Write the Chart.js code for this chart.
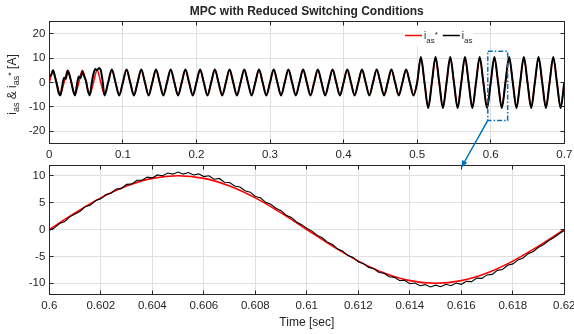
<!DOCTYPE html>
<html>
<head>
<meta charset="utf-8">
<script src="https://cdn.jsdelivr.net/npm/chart.js@4.4.1/dist/chart.umd.min.js"></script>
<style>
  html, body { margin: 0; padding: 0; background: #fff; }
  #wrap { position: relative; width: 574px; height: 334px; }
  #wrap canvas { position: absolute; left: 0; top: 0; }
</style>
</head>
<body>
<div id="wrap">
  <canvas id="topChart" width="574" height="334"></canvas>
  <canvas id="zoomChart" width="574" height="334"></canvas>
  <canvas id="overlay" width="574" height="334"></canvas>
</div>
<script>
// ---- data: full run (0 - 0.7 s) ----
const tRef = [
  0,0.005,0.01,0.015,0.02,0.025,0.03,0.035,0.04,0.045,
  0.05,0.055,0.06,0.065,0.07,0.075,0.08,0.085,0.09,0.095,
  0.1,0.105,0.11,0.115,0.12,0.125,0.13,0.135,0.14,0.145,
  0.15,0.155,0.16,0.165,0.17,0.175,0.18,0.185,0.19,0.195,
  0.2,0.205,0.21,0.215,0.22,0.225,0.23,0.235,0.24,0.245,
  0.25,0.255,0.26,0.265,0.27,0.275,0.28,0.285,0.29,0.295,
  0.3,0.305,0.31,0.315,0.32,0.325,0.33,0.335,0.34,0.345,
  0.35,0.355,0.36,0.365,0.37,0.375,0.38,0.385,0.39,0.395,
  0.4,0.405,0.41,0.415,0.42,0.425,0.43,0.435,0.44,0.445,
  0.45,0.455,0.46,0.465,0.47,0.475,0.48,0.485,0.49,0.495,
  0.5,0.505,0.51,0.515,0.52,0.525,0.53,0.535,0.54,0.545,
  0.55,0.555,0.56,0.565,0.57,0.575,0.58,0.585,0.59,0.595,
  0.6,0.605,0.61,0.615,0.62,0.625,0.63,0.635,0.64,0.645,
  0.65,0.655,0.66,0.665,0.67,0.675,0.68,0.685,0.69,0.695,
  0.7
];
const iRef = [
  0,5,0,-5,0,5,0,-5,0,5,0,-5,0,5,0,-5,0,5,0,-5,
  0,5,0,-5,0,5,0,-5,0,5,0,-5,0,5,0,-5,0,5,0,-5,
  0,5,0,-5,0,5,0,-5,0,5,0,-5,0,5,0,-5,0,5,0,-5,
  0,5,0,-5,0,5,0,-5,0,5,0,-5,0,5,0,-5,0,5,0,-5,
  0,5,0,-5,0,5,0,-5,0,5,0,-5,0,5,0,-5,0,5,0,-5,
  0,
  10,0,-10,0,10,0,-10,0,10,0,-10,0,10,0,-10,0,10,0,-10,0,
  10,0,-10,0,10,0,-10,0,10,0,-10,0,10,0,-10,0,10,0,-10,0
];
const tMeas = [
  0,0.0025,0.005,0.0075,0.01,0.0125,0.015,0.0175,0.02,0.0225,
  0.025,0.0275,0.03,0.0325,0.035,0.0375,0.04,0.0425,0.045,0.0475,
  0.05,0.0525,0.055,0.0575,0.06,0.0625,0.065,0.0675,0.07,0.0725,
  0.075,
  0.08,0.085,0.09,0.095,
  0.1,0.105,0.11,0.115,0.12,0.125,0.13,0.135,0.14,0.145,
  0.15,0.155,0.16,0.165,0.17,0.175,0.18,0.185,0.19,0.195,
  0.2,0.205,0.21,0.215,0.22,0.225,0.23,0.235,0.24,0.245,
  0.25,0.255,0.26,0.265,0.27,0.275,0.28,0.285,0.29,0.295,
  0.3,0.305,0.31,0.315,0.32,0.325,0.33,0.335,0.34,0.345,
  0.35,0.355,0.36,0.365,0.37,0.375,0.38,0.385,0.39,0.395,
  0.4,0.405,0.41,0.415,0.42,0.425,0.43,0.435,0.44,0.445,
  0.45,0.455,0.46,0.465,0.47,0.475,0.48,0.485,0.49,0.495,
  0.5,0.505,0.51,0.515,0.52,0.525,0.53,0.535,0.54,0.545,
  0.55,0.555,0.56,0.565,0.57,0.575,0.58,0.585,0.59,0.595,
  0.6,0.605,0.61,0.615,0.62,0.625,0.63,0.635,0.64,0.645,
  0.65,0.655,0.66,0.665,0.67,0.675,0.68,0.685,0.69,0.695,
  0.7
];
const iMeas = [
  2.5,3.0,5.0,2.5,-0.5,-4.0,-5.3,-1.5,2.0,1.5,
  4.8,3.0,0.0,-3.5,-5.3,-1.0,2.5,1.8,4.5,2.5,
  0.5,-3.5,-5.3,-0.5,3.5,5.5,5.0,6.0,5.0,0.5,
  -5.3,
  0,5.3,0,-5.3,
  0,5.3,0,-5.3,0,5.3,0,-5.3,0,5.3,0,-5.3,0,5.3,0,-5.3,0,5.3,0,-5.3,
  0,5.3,0,-5.3,0,5.3,0,-5.3,0,5.3,0,-5.3,0,5.3,0,-5.3,0,5.3,0,-5.3,
  0,5.3,0,-5.3,0,5.3,0,-5.3,0,5.3,0,-5.3,0,5.3,0,-5.3,0,5.3,0,-5.3,
  0,5.3,0,-5.3,0,5.3,0,-5.3,0,5.3,0,-5.3,0,5.3,0,-5.3,0,5.3,0,-5.3,
  0,
  10.5,0,-10.5,0,10.5,0,-10.5,0,10.5,0,-10.5,0,10.5,0,-10.5,0,10.5,0,-10.5,0,
  10.5,0,-10.5,0,10.5,0,-10.5,0,10.5,0,-10.5,0,10.5,0,-10.5,0,10.5,0,-10.5,0
];

// ---- data: zoomed window (0.6 - 0.62 s) ----
const tZoomRef = [0.6,0.601,0.602,0.603,0.604,0.605,0.606,0.607,0.608,0.609,0.61,
  0.611,0.612,0.613,0.614,0.615,0.616,0.617,0.618,0.619,0.62];
const iZoomRef = [0,3.09,5.88,8.09,9.51,10,9.51,8.09,5.88,3.09,0,
  -3.09,-5.88,-8.09,-9.51,-10,-9.51,-8.09,-5.88,-3.09,0];
const tZoomMeas = [
  0.6,0.6002,0.6004,0.6006,0.6008,0.601,0.6012,0.6014,0.6016,0.6018,
  0.602,0.6022,0.6024,0.6026,0.6028,0.603,0.6032,0.6034,0.6036,0.6038,
  0.604,0.6042,0.6044,0.6046,0.6048,0.605,0.6052,0.6054,0.6056,0.6058,
  0.606,0.6062,0.6064,0.6066,0.6068,0.607,0.6072,0.6074,0.6076,0.6078,
  0.608,0.6082,0.6084,0.6086,0.6088,0.609,0.6092,0.6094,0.6096,0.6098,
  0.61,0.6102,0.6104,0.6106,0.6108,0.611,0.6112,0.6114,0.6116,0.6118,
  0.612,0.6122,0.6124,0.6126,0.6128,0.613,0.6132,0.6134,0.6136,0.6138,
  0.614,0.6142,0.6144,0.6146,0.6148,0.615,0.6152,0.6154,0.6156,0.6158,
  0.616,0.6162,0.6164,0.6166,0.6168,0.617,0.6172,0.6174,0.6176,0.6178,
  0.618,0.6182,0.6184,0.6186,0.6188,0.619,0.6192,0.6194,0.6196,0.6198,
  0.62
];
const iZoomMeas = [
  -0.2,0.3,1.1,1.5,2.35,2.9,3.4,4.25,4.55,5.4,
  5.7,6.5,6.75,7.55,7.6,8.4,8.45,9.15,9.15,9.75,
  9.6,10.15,10.0,10.5,10.3,10.7,10.3,10.6,10.15,10.35,
  9.85,10.0,9.35,9.5,8.8,8.75,8.1,7.9,7.2,6.95,
  6.15,5.9,5.05,4.7,3.95,3.5,2.65,2.25,1.4,0.9,
  0.25,-0.3,-1.05,-1.55,-2.35,-2.8,-3.65,-4.05,-4.85,-5.2,
  -6.0,-6.35,-7.05,-7.25,-8.0,-8.15,-8.8,-8.9,-9.5,-9.45,
  -10.1,-9.95,-10.45,-10.25,-10.7,-10.35,-10.65,-10.2,-10.45,-9.95,
  -10.2,-9.65,-9.7,-9.05,-9.1,-8.45,-8.35,-7.6,-7.45,-6.65,
  -6.4,-5.65,-5.3,-4.5,-4.1,-3.3,-2.8,-2.05,-1.5,-0.8,
  -0.2
];

// ---- tick labels ----
const xTicksTop = [0, 0.1, 0.2, 0.3, 0.4, 0.5, 0.6, 0.7];
const yTicksTop = [-20, -10, 0, 10, 20];
const xTicksZoom = [0.6, 0.602, 0.604, 0.606, 0.608, 0.61, 0.612, 0.614, 0.616, 0.618, 0.62];
const yTicksZoom = [-10, -5, 0, 5, 10];

// zoom window marked on the top plot, arrow points to this time on the lower plot
const zoomWindow = { t: [0.596, 0.623], i: [-15.6, 12.8] };
const arrowTargetT = 0.616;

const titleText = "MPC with Reduced Switching Conditions";
const FONT = "'Liberation Sans', Arial, Helvetica, sans-serif";
const TXT = "#262626";
const GRID = "#e0e0e0";
const BLUE = "#0072BD";

const pts = (ts, vs) => ts.map((t, k) => ({ x: t, y: vs[k] }));
const fixedTicks = list => axis => { axis.ticks = list.map(v => ({ value: v })); };
const fmt = d => v => String(Number(v.toFixed(d)));
const align = p => Math.round(p - 0.5) + 0.5;

// box around the axes with inward tick marks (MATLAB style)
const boxTicks = {
  id: "boxTicks",
  afterDraw(chart) {
    const { ctx, chartArea: a, scales: { x, y } } = chart;
    const L = align(a.left), R = align(a.right), T = align(a.top), B = align(a.bottom);
    const len = 4;
    ctx.save();
    ctx.strokeStyle = TXT;
    ctx.lineWidth = 1;
    ctx.strokeRect(L, T, R - L, B - T);
    ctx.beginPath();
    x.ticks.forEach(tk => {
      const px = align(x.getPixelForValue(tk.value));
      ctx.moveTo(px, B); ctx.lineTo(px, B - len);
      ctx.moveTo(px, T); ctx.lineTo(px, T + len);
    });
    y.ticks.forEach(tk => {
      const py = align(y.getPixelForValue(tk.value));
      ctx.moveTo(L, py); ctx.lineTo(L + len, py);
      ctx.moveTo(R, py); ctx.lineTo(R - len, py);
    });
    ctx.stroke();
    ctx.restore();
  }
};

function axisOpts(min, max, ticks, decimals, extra) {
  return Object.assign({
    type: "linear",
    min: min,
    max: max,
    afterBuildTicks: fixedTicks(ticks),
    grid: { color: GRID, drawTicks: false },
    border: { display: false },
    ticks: {
      color: TXT,
      font: { family: FONT, size: 11.5 },
      autoSkip: false,
      maxRotation: 0,
      callback: fmt(decimals)
    }
  }, extra);
}

const topChart = new Chart(document.getElementById("topChart"), {
  type: "line",
  data: {
    datasets: [
      { label: "i_as*", data: pts(tRef, iRef), borderColor: "#ff0000", borderWidth: 1.5,
        pointRadius: 0, cubicInterpolationMode: "monotone", order: 1 },
      { label: "i_as", data: pts(tMeas, iMeas), borderColor: "#000000", borderWidth: 2,
        pointRadius: 0, cubicInterpolationMode: "monotone", order: 0 }
    ]
  },
  options: {
    responsive: false,
    animation: false,
    events: [],
    layout: { padding: { left: 0, right: 9.7, top: 21.7, bottom: 170.7 } },
    plugins: { legend: { display: false }, tooltip: { enabled: false } },
    scales: {
      x: axisOpts(0, 0.7, xTicksTop, 2, {
        afterFit: s => { s.height = 20; s.paddingLeft = 0; s.paddingRight = 0; }
      }),
      y: axisOpts(-25, 25, yTicksTop, 0, {
        afterFit: s => { s.width = 49.3; s.paddingTop = 0; s.paddingBottom = 0; }
      })
    }
  },
  plugins: [boxTicks]
});
topChart.options.scales.x.ticks.padding = 5;
topChart.options.scales.y.ticks.padding = 4;
topChart.update();

const zoomChart = new Chart(document.getElementById("zoomChart"), {
  type: "line",
  data: {
    datasets: [
      { label: "i_as*", data: pts(tZoomRef, iZoomRef), borderColor: "#ff0000", borderWidth: 1.6,
        pointRadius: 0, tension: 0.4, order: 1 },
      { label: "i_as", data: pts(tZoomMeas, iZoomMeas), borderColor: "#000000", borderWidth: 1.1,
        pointRadius: 0, tension: 0, order: 0 }
    ]
  },
  options: {
    responsive: false,
    animation: false,
    events: [],
    layout: { padding: { left: 0, right: 9.7, top: 165, bottom: 0 } },
    plugins: { legend: { display: false }, tooltip: { enabled: false } },
    scales: {
      x: axisOpts(0.6, 0.62, xTicksZoom, 3, {
        afterFit: s => { s.height = 40; s.paddingLeft = 0; s.paddingRight = 0; },
        title: { display: true, text: "Time [sec]", color: TXT,
                 font: { family: FONT, size: 12 }, padding: { top: 0, bottom: 4 } }
      }),
      y: axisOpts(-12, 12, yTicksZoom, 0, {
        afterFit: s => { s.width = 49.3; s.paddingTop = 0; s.paddingBottom = 0; }
      })
    }
  },
  plugins: [boxTicks]
});
zoomChart.options.scales.x.ticks.padding = 5;
zoomChart.options.scales.y.ticks.padding = 4;
zoomChart.update();

// ---- overlay: title, y label, legend, zoom box + arrow ----
function richWidth(ctx, parts) {
  let w = 0;
  parts.forEach(p => { ctx.font = (p.bold ? "bold " : "") + p.s + "px " + FONT; w += ctx.measureText(p.t).width; });
  return w;
}
function drawRich(ctx, parts, x, y) {
  let cx = x;
  parts.forEach(p => {
    ctx.font = (p.bold ? "bold " : "") + p.s + "px " + FONT;
    ctx.fillText(p.t, cx, y + (p.dy || 0));
    cx += ctx.measureText(p.t).width;
  });
  return cx;
}

const ov = document.getElementById("overlay").getContext("2d");
const ta = topChart.chartArea;
ov.fillStyle = TXT;
ov.textBaseline = "alphabetic";

// title
ov.font = "bold 12px " + FONT;
ov.textAlign = "center";
ov.textBaseline = "middle";
ov.fillText(titleText, (ta.left + ta.right) / 2, 12);
ov.textAlign = "left";
ov.textBaseline = "alphabetic";

// y label (rotated)
const ylab = [
  { t: "i", s: 12 }, { t: "as", s: 9, dy: 3 }, { t: " & ", s: 12 },
  { t: "i", s: 12 }, { t: "as", s: 9, dy: 3 }, { t: "*", s: 9, dy: -2.5 }, { t: " [A]", s: 12 }
];
ov.save();
ov.translate(16, (ta.top + ta.bottom) / 2 + 2);
ov.rotate(-Math.PI / 2);
drawRich(ov, ylab, -richWidth(ov, ylab) / 2, 0);
ov.restore();

// legend
const lgY = 35.5;
ov.fillStyle = "#ffffff";
ov.fillRect(403, 26, 70, 20);
ov.lineWidth = 1.5;
ov.strokeStyle = "#ff0000";
ov.beginPath(); ov.moveTo(405, lgY); ov.lineTo(422, lgY); ov.stroke();
ov.fillStyle = TXT;
let lx = drawRich(ov, [{ t: "i", s: 10 }, { t: "as", s: 8, dy: 3.5 }, { t: "*", s: 8, dy: -2 }], 424, lgY + 3.5);
ov.strokeStyle = "#000000";
ov.beginPath(); ov.moveTo(lx + 5, lgY); ov.lineTo(lx + 22, lgY); ov.stroke();
drawRich(ov, [{ t: "i", s: 10 }, { t: "as", s: 8, dy: 3.5 }], lx + 24, lgY + 3.5);

// zoom window rectangle
const txs = topChart.scales.x, tys = topChart.scales.y;
const rx0 = txs.getPixelForValue(zoomWindow.t[0]), rx1 = txs.getPixelForValue(zoomWindow.t[1]);
const ry0 = tys.getPixelForValue(zoomWindow.i[1]), ry1 = tys.getPixelForValue(zoomWindow.i[0]);
ov.strokeStyle = BLUE;
ov.lineWidth = 1.5;
ov.setLineDash([5, 2, 1.5, 2]);
ov.strokeRect(rx0, ry0, rx1 - rx0, ry1 - ry0);
ov.setLineDash([]);

// arrow to the lower plot
const ax = zoomChart.scales.x.getPixelForValue(arrowTargetT);
const ay = zoomChart.chartArea.top + 2.5;
ov.beginPath(); ov.moveTo(rx0, ry1); ov.lineTo(ax, ay); ov.stroke();
const ang = Math.atan2(ay - ry1, ax - rx0);
ov.fillStyle = BLUE;
ov.beginPath();
ov.moveTo(ax, ay);
ov.lineTo(ax - 7 * Math.cos(ang) + 3 * Math.sin(ang), ay - 7 * Math.sin(ang) - 3 * Math.cos(ang));
ov.lineTo(ax - 7 * Math.cos(ang) - 3 * Math.sin(ang), ay - 7 * Math.sin(ang) + 3 * Math.cos(ang));
ov.closePath();
ov.fill();
</script>
</body>
</html>
